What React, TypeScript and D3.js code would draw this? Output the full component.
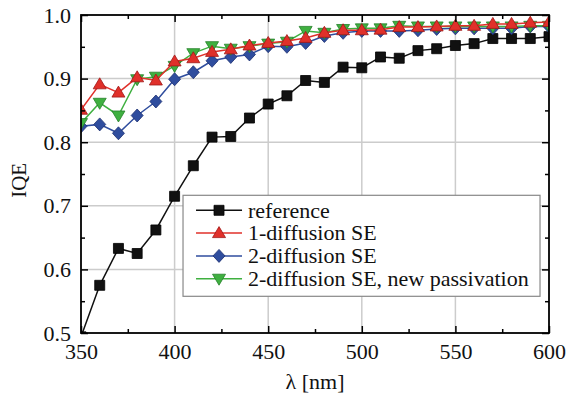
import { useEffect, useRef } from 'react'
import * as d3 from 'd3'

const wavelengths = [350, 360, 370, 380, 390, 400, 410, 420, 430, 440, 450, 460, 470, 480, 490, 500, 510, 520, 530, 540, 550, 560, 570, 580, 590, 600]

const reference = [0.494, 0.575, 0.633, 0.625, 0.662, 0.715, 0.763, 0.808, 0.809, 0.838, 0.860, 0.873, 0.897, 0.894, 0.918, 0.917, 0.934, 0.932, 0.944, 0.947, 0.952, 0.955, 0.963, 0.963, 0.963, 0.966]
const oneDiffusion = [0.851, 0.891, 0.878, 0.902, 0.897, 0.927, 0.932, 0.942, 0.946, 0.952, 0.956, 0.959, 0.964, 0.972, 0.976, 0.976, 0.977, 0.981, 0.981, 0.982, 0.983, 0.983, 0.986, 0.986, 0.988, 0.989]
const twoDiffusion = [0.825, 0.828, 0.814, 0.842, 0.864, 0.899, 0.910, 0.928, 0.934, 0.938, 0.951, 0.950, 0.956, 0.967, 0.972, 0.975, 0.975, 0.975, 0.976, 0.978, 0.979, 0.979, 0.979, 0.979, 0.982, 0.982]
const newPassivation = [0.830, 0.862, 0.842, 0.899, 0.903, 0.920, 0.940, 0.951, 0.947, 0.951, 0.955, 0.958, 0.975, 0.972, 0.978, 0.979, 0.979, 0.983, 0.982, 0.982, 0.982, 0.982, 0.982, 0.982, 0.983, 0.983]

const xTicks = [350, 400, 450, 500, 550, 600]
const yTicks = [0.5, 0.6, 0.7, 0.8, 0.9, 1.0]

type Shape = 'square' | 'triangle' | 'diamond' | 'triangleDown'

interface Series {
  name: string
  values: number[]
  line: string
  fill: string
  stroke: string
  shape: Shape
}

// legend order
const series: Series[] = [
  { name: 'reference', values: reference, line: '#111111', fill: '#111111', stroke: '#000000', shape: 'square' },
  { name: '1-diffusion SE', values: oneDiffusion, line: '#e0302a', fill: '#e0302a', stroke: '#a01818', shape: 'triangle' },
  { name: '2-diffusion SE', values: twoDiffusion, line: '#2f4d9e', fill: '#2f4d9e', stroke: '#1c2f70', shape: 'diamond' },
  { name: '2-diffusion SE, new passivation', values: newPassivation, line: '#3fb040', fill: '#3fb040', stroke: '#25802a', shape: 'triangleDown' },
]

// draw order: black, blue, green, red on top
const drawOrder = [0, 2, 3, 1]

const FONT = "'Liberation Serif', 'Times New Roman', Times, Tinos, 'Nimbus Roman', 'Noto Serif', FreeSerif, 'DejaVu Serif', serif"

function markerPath(shape: Shape): string {
  if (shape === 'square') return 'M-5,-5H5V5H-5Z'
  if (shape === 'triangle') return 'M0,-6.5L6.5,4.5L-6.5,4.5Z'
  if (shape === 'triangleDown') return 'M0,6.5L6.5,-4.5L-6.5,-4.5Z'
  return 'M0,-6.5L6,0L0,6.5L-6,0Z'
}

export default function App() {
  const svgRef = useRef<SVGSVGElement>(null)

  useEffect(() => {
    if (!svgRef.current) return
    const svg = d3.select(svgRef.current)
    svg.selectAll('*').remove()

    const width = 570
    const height = 394
    const margin = { top: 15, right: 21, bottom: 61, left: 81 }
    const innerWidth = width - margin.left - margin.right
    const innerHeight = height - margin.top - margin.bottom

    const x = d3.scaleLinear().domain([350, 600]).range([0, innerWidth])
    const y = d3.scaleLinear().domain([0.5, 1.0]).range([innerHeight, 0])

    const g = svg.append('g').attr('transform', `translate(${margin.left},${margin.top})`)

    svg.append('defs').append('clipPath').attr('id', 'plot-clip')
      .append('rect').attr('x', 0).attr('y', 0).attr('width', innerWidth).attr('height', innerHeight)

    // Grid
    g.append('g').selectAll('line').data(xTicks.slice(1, -1)).join('line')
      .attr('x1', d => x(d)).attr('x2', d => x(d))
      .attr('y1', 0).attr('y2', innerHeight)
      .attr('stroke', '#cccccc').attr('stroke-width', 1.5)
    g.append('g').selectAll('line').data(yTicks.slice(1, -1)).join('line')
      .attr('x1', 0).attr('x2', innerWidth)
      .attr('y1', d => y(d)).attr('y2', d => y(d))
      .attr('stroke', '#cccccc').attr('stroke-width', 1.5)

    // Series
    const plot = g.append('g').attr('clip-path', 'url(#plot-clip)')
    for (const i of drawOrder) {
      const s = series[i]
      const pts = wavelengths.map((w, k) => [w, s.values[k]] as [number, number])
      const line = d3.line<[number, number]>().x(d => x(d[0])).y(d => y(d[1]))
      plot.append('path')
        .datum(pts)
        .attr('fill', 'none')
        .attr('stroke', s.line)
        .attr('stroke-width', 1.5)
        .attr('d', line)
      plot.append('g').selectAll('path').data(pts).join('path')
        .attr('transform', d => `translate(${x(d[0])},${y(d[1])})`)
        .attr('d', markerPath(s.shape))
        .attr('fill', s.fill)
        .attr('stroke', s.stroke)
        .attr('stroke-width', 0.8)
    }

    // Axes (box with inward ticks)
    const tickStyle = (sel: d3.Selection<SVGGElement, unknown, null, undefined>) => {
      sel.attr('font-family', null).attr('font-size', null)
      sel.selectAll('.domain').remove()
      sel.selectAll('.tick line').attr('stroke', '#000').attr('stroke-width', 1.5)
    }
    const minorX = d3.range(375, 600, 50)
    const minorY = d3.range(0.55, 1.0, 0.1)

    const bottom = g.append('g').attr('transform', `translate(0,${innerHeight})`)
      .call(d3.axisBottom(x).tickValues(xTicks).tickSize(-7).tickPadding(10).tickFormat(d3.format('d')))
    bottom.call(tickStyle)
    bottom.selectAll('text').style('font-family', FONT).style('font-size', '22px').attr('fill', '#111')
      .attr('dy', '0.71em')
    g.append('g').attr('transform', `translate(0,${innerHeight})`)
      .call(d3.axisBottom(x).tickValues(minorX).tickSize(-4).tickFormat(() => ''))
      .call(tickStyle)

    const top = g.append('g')
      .call(d3.axisTop(x).tickValues(xTicks).tickSize(-7).tickFormat(() => ''))
    top.call(tickStyle)
    g.append('g').call(d3.axisTop(x).tickValues(minorX).tickSize(-4).tickFormat(() => '')).call(tickStyle)

    const left = g.append('g')
      .call(d3.axisLeft(y).tickValues(yTicks).tickSize(-7).tickPadding(10).tickFormat(d3.format('.1f')))
    left.call(tickStyle)
    left.selectAll('text').style('font-family', FONT).style('font-size', '22px').attr('fill', '#111')
    g.append('g').call(d3.axisLeft(y).tickValues(minorY).tickSize(-4).tickFormat(() => '')).call(tickStyle)

    g.append('g').attr('transform', `translate(${innerWidth},0)`)
      .call(d3.axisRight(y).tickValues(yTicks).tickSize(-7).tickFormat(() => '')).call(tickStyle)
    g.append('g').attr('transform', `translate(${innerWidth},0)`)
      .call(d3.axisRight(y).tickValues(minorY).tickSize(-4).tickFormat(() => '')).call(tickStyle)

    g.append('rect')
      .attr('x', 0).attr('y', 0).attr('width', innerWidth).attr('height', innerHeight)
      .attr('fill', 'none').attr('stroke', '#000').attr('stroke-width', 1.8)

    // Axis titles
    g.append('text')
      .attr('x', x(475)).attr('y', innerHeight + 56)
      .attr('text-anchor', 'middle')
      .style('font-family', FONT).style('font-size', '22px').attr('fill', '#111')
      .text('λ [nm]')

    g.append('text')
      .attr('transform', `translate(${-55},${y(0.74)}) rotate(-90)`)
      .attr('text-anchor', 'middle')
      .style('font-family', FONT).style('font-size', '21px').attr('fill', '#111')
      .text('IQE')

    // Legend
    const legend = g.append('g').attr('transform', `translate(${x(404.5)},${y(0.7165)})`)
    legend.append('rect')
      .attr('x', 0).attr('y', 0).attr('width', 357).attr('height', 101)
      .attr('fill', '#ffffff').attr('stroke', '#888888').attr('stroke-width', 1.2)
    series.forEach((s, i) => {
      const row = legend.append('g').attr('transform', `translate(0,${15 + i * 22.8})`)
      row.append('line')
        .attr('x1', 13).attr('x2', 59).attr('y1', 0).attr('y2', 0)
        .attr('stroke', s.line).attr('stroke-width', 1.5)
      row.append('path')
        .attr('transform', 'translate(36,0)')
        .attr('d', markerPath(s.shape))
        .attr('fill', s.fill).attr('stroke', s.stroke).attr('stroke-width', 0.8)
      row.append('text')
        .attr('x', 65).attr('y', 0).attr('dy', '0.33em')
        .style('font-family', FONT).style('font-size', '22px').attr('fill', '#111')
        .text(s.name)
    })
  }, [])

  return (
    <svg
      ref={svgRef}
      width={570}
      height={394}
      style={{ position: 'absolute', left: 0, top: 0, background: '#fff' }}
    />
  )
}
